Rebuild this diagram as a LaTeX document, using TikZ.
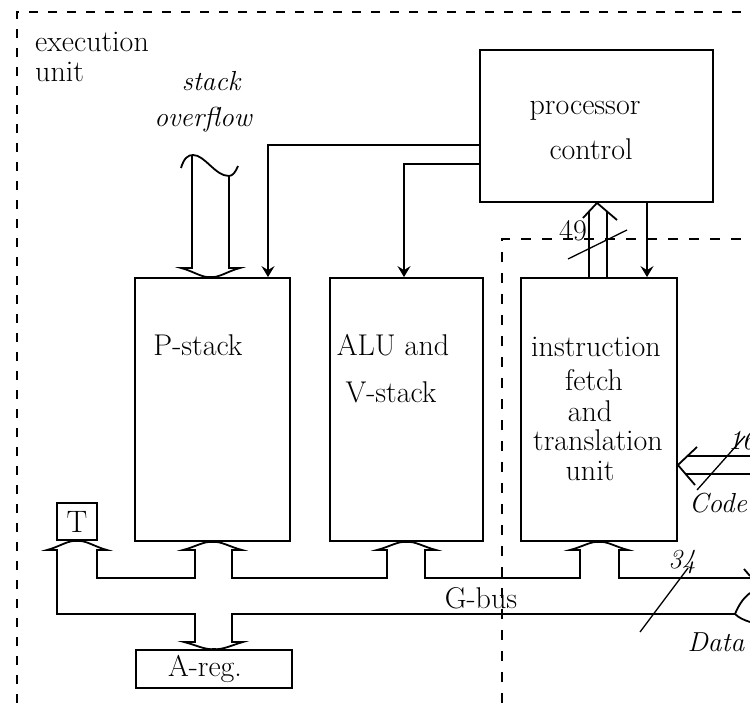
\documentclass[tikz,border=0pt]{standalone}
\usetikzlibrary{arrows.meta}
\begin{document}
\begin{tikzpicture}[x=1pt,y=-1pt,
  every node/.style={font=\fontsize{30}{34}\selectfont, inner sep=0pt},
  box/.style={draw, line width=1.8pt, rectangle},
  lbl/.style={},
  ilbl/.style={font=\fontsize{27.5}{32}\selectfont\itshape},
  bus/.style={line width=1.8pt, line join=miter},
  arr/.style={line width=1.8pt, -{Stealth[length=11pt,width=13pt,inset=4pt]}},
  frame/.style={line width=1.4pt, dash pattern=on 9pt off 10pt},
  iframe/.style={line width=1.1pt, dash pattern=on 10pt off 11pt},
  slash/.style={line width=1.3pt}]
\clip (0,0) rectangle (750,703);
\fill[white] (0,0) rectangle (750,703);

% frames
\coordinate (fo1) at (17,703);
\coordinate (fo2) at (17,12);
\coordinate (fo3) at (750,12);
\draw[frame] (fo1) -- (fo2) -- (fo3);
\coordinate (fi1) at (502,703);
\coordinate (fi2) at (502,239);
\coordinate (fi3) at (750,239);
\draw[iframe] (fi1) -- (fi2) -- (fi3);

% boxes
\node[box, minimum width=233pt, minimum height=152pt] (pc) at (596.5,126) {};
\node[box, minimum width=155pt, minimum height=263pt] (ps) at (212.5,409.5) {};
\node[box, minimum width=153pt, minimum height=263pt] (alu) at (406.5,409.5) {};
\node[box, minimum width=156pt, minimum height=263pt] (ifu) at (599,409.5) {};
\node[box, minimum width=40pt, minimum height=37pt, font=\fontsize{31}{32}\selectfont] (tb) at (77,521.5) {T};
\node[box, minimum width=156pt, minimum height=38pt] (areg) at (214,669) {};

% texts
\node[lbl, anchor=west] (t1) at (35,42) {execution};
\node[lbl, anchor=west] (t2) at (35,72) {unit};
\node[ilbl] (t3) at (211,81) {stack};
\node[ilbl] (t4) at (203,120) {overflow};
\node[lbl] (t5) at (585,111) {processor};
\node[lbl] (t6) at (591,149) {control};
\node[lbl] (t7) at (198,345) {P-stack};
\node[lbl] (t8) at (393,345) {ALU and};
\node[lbl] (t9) at (391,392) {V-stack};
\node[lbl] (t10) at (596,347) {instruction};
\node[lbl] (t11) at (594,380) {fetch};
\node[lbl] (t12) at (590,411) {and};
\node[lbl] (t13) at (598,440) {translation};
\node[lbl] (t14) at (590,471) {unit};
\node[lbl] (t15) at (205,669) {A-reg.};
\node[lbl] (t16) at (481,598) {G-bus};
\node[lbl] (t17) at (573,231) {49};
\node[ilbl, anchor=west] (t18) at (728,441) {16};
\node[ilbl] (t19) at (718,503) {Code};
\node[ilbl] (t20) at (682,562) {34};
\node[ilbl] (t21) at (716,642) {Data};

% control connections
\draw[arr] (pc.west |- 0,145) -- (268,145) -- (ps.north -| 268,0);
\draw[arr] (pc.west |- 0,164) -- (404,164) -- (alu.north -| 404,0);
\draw[arr] (pc.south -| 647,0) -- (ifu.north -| 647,0);

% instruction unit -> processor control (49 lines)
\coordinate (ua) at (pc.south -| 597,0);
\draw[bus] (583,218) -- (ua) -- (617,220);
\draw[bus] (ifu.north -| 589,0) -- (589,211);
\draw[bus] (ifu.north -| 607,0) -- (607,211);
\draw[slash] (568,259) -- (627,230);

% stack overflow bus
\coordinate (sa) at (ps.north -| 210.5,0);
\draw[bus] (192,156) -- (192,268) -- (181,268) .. controls (193,271) and (202,278) .. (sa)
  .. controls (219,278) and (228,271) .. (240,268) -- (229,268) -- (229,176);
\draw[bus] (181,168) .. controls (184,158) and (188,155) .. (193,155)
  .. controls (205,155) and (215,176) .. (229,176) .. controls (233,176) and (236,171) .. (238,166);

% G-bus
\draw[bus] (735,614) -- (232,614) -- (232,642) -- (243,642)
  .. controls (232,645) and (223,650) .. (areg.north)
  .. controls (205,650) and (196,645) .. (184,642) -- (195,642) -- (195,614)
  -- (57,614) -- (57,550) -- (47,550)
  .. controls (59,547) and (68,540) .. (tb.south)
  .. controls (86,540) and (95,547) .. (107,550) -- (97,550) -- (97,578)
  -- (195,578) -- (195,550) -- (183,550)
  .. controls (195,547) and (204,541) .. (ps.south)
  .. controls (221,541) and (230,547) .. (242,550) -- (232,550) -- (232,578)
  -- (387,578) -- (387,550) -- (377,550)
  .. controls (389,547) and (398,541) .. (alu.south)
  .. controls (415,541) and (424,547) .. (436,550) -- (425,550) -- (425,578)
  -- (580,578) -- (580,550) -- (570,550)
  .. controls (582,547) and (591,541) .. (ifu.south)
  .. controls (607,541) and (616,547) .. (628,550) -- (619,550) -- (619,578)
  -- (750,578);
\draw[bus] (750,593) .. controls (742,599) and (738,607) .. (735,614)
  .. controls (739,618) and (744,620) .. (750,622);
\draw[bus] (744,569) -- (750,576);
\draw[slash] (640,632) -- (688,568);

% Code bus
\coordinate (ca) at (ifu.east |- 0,465);
\draw[bus] (697,447) -- (ca) -- (695,485);
\draw[bus] (687.5,456) -- (750,456);
\draw[bus] (685.6,474) -- (750,474);
\draw[slash] (697,490) -- (745,436);
\end{tikzpicture}
\end{document}
